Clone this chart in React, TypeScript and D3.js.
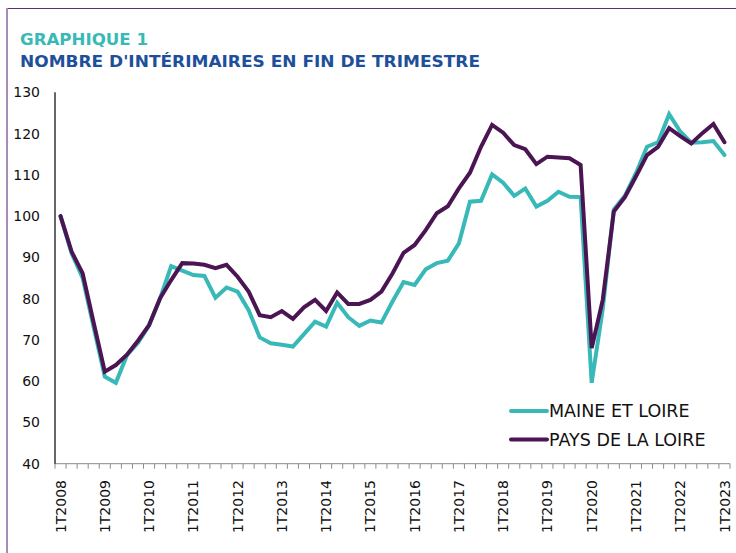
import React from "react";
import * as d3 from "d3";

const years = d3.range(2008, 2024);
const categories: string[] = [];
years.forEach((y) => {
  for (let q = 1; q <= 4; q++) {
    if (y === 2023 && q > 1) break;
    categories.push(`${q}T${y}`);
  }
});

const maineEtLoire = [
  100, 91, 85, 73, 61.1, 59.6, 66.3, 69.3, 73.5, 80.1, 87.9, 86.8, 85.7, 85.5, 80.2, 82.7,
  81.7, 77.2, 70.6, 69.2, 68.8, 68.4, 71.4, 74.4, 73.2, 79.0, 75.5, 73.4, 74.7, 74.2, 79.3, 84.0,
  83.3, 87.1, 88.6, 89.2, 93.4, 103.5, 103.7, 110.1, 108.1, 104.9, 106.7, 102.3, 103.7, 105.9, 104.7, 104.6,
  59.6, 77.5, 101.6, 104.9, 110.4, 116.8, 117.9, 124.7, 120.5, 117.8, 117.9, 118.2, 114.8,
];

const paysDeLaLoire = [
  100, 91.4, 86.1, 74.1, 62.3, 63.9, 66.4, 69.8, 73.6, 80.1, 84.5, 88.6, 88.5, 88.2, 87.4, 88.2,
  85.3, 81.7, 76.0, 75.5, 77.0, 75.1, 77.9, 79.7, 77.0, 81.5, 78.7, 78.7, 79.7, 81.7, 86.1, 91.1,
  93.0, 96.6, 100.7, 102.4, 106.7, 110.5, 116.8, 122.1, 120.2, 117.2, 116.2, 112.6, 114.4, 114.2, 114.0, 112.4,
  68.0, 79.7, 101.1, 104.6, 109.6, 114.8, 116.8, 121.3, 119.4, 117.6, 120.1, 122.3, 117.9,
];

const yTicks = [40, 50, 60, 70, 80, 90, 100, 110, 120, 130];
const seriesNames = ["MAINE ET LOIRE", "PAYS DE LA LOIRE"];
const colors = ["#38b9b7", "#4a1552"];

export default function App() {
  const W = 736;
  const H = 553;
  const x = d3.scaleBand<string>().domain(categories).range([55, 730]);
  const y = d3.scaleLinear().domain([40, 130]).range([463.7, 92.3]);
  const cx = (c: string) => (x(c) as number) + x.bandwidth() / 2;
  const line = d3
    .line<number>()
    .x((_, i) => cx(categories[i]))
    .y((d) => y(d));
  const series = [maineEtLoire, paysDeLaLoire];
  const font = "'DejaVu Sans', Verdana, sans-serif";
  const boundaries = categories.map((c) => x(c) as number).concat([730]);

  return (
    <svg
      width={W}
      height={H}
      style={{ position: "absolute", left: 0, top: 0, background: "#fff" }}
    >
      <line x1={7} x2={W} y1={8.5} y2={8.5} stroke="#5e2d73" strokeWidth={1} />
      <line x1={7} x2={7} y1={8} y2={H} stroke="#a88cb8" strokeWidth={2} />

      <text
        x={20}
        y={45}
        fontFamily={font}
        fontWeight="bold"
        fontSize={16.5}
        fill="#38b9b7"
        textLength={128}
        lengthAdjust="spacingAndGlyphs"
      >
        GRAPHIQUE 1
      </text>
      <text
        x={20}
        y={67}
        fontFamily={font}
        fontWeight="bold"
        fontSize={16.5}
        fill="#1e4f9a"
        textLength={460}
        lengthAdjust="spacingAndGlyphs"
      >
        NOMBRE D'INTÉRIMAIRES EN FIN DE TRIMESTRE
      </text>

      {yTicks.map((t) => (
        <text
          key={t}
          x={40}
          y={y(t)}
          dy="0.36em"
          textAnchor="end"
          fontFamily={font}
          fontSize={14}
          fill="#111"
        >
          {t}
        </text>
      ))}

      <line x1={55} x2={730} y1={y(40)} y2={y(40)} stroke="#8c8c8c" strokeWidth={1} />
      {boundaries.map((b, i) => (
        <line key={i} x1={b} x2={b} y1={y(40)} y2={y(40) + 5} stroke="#8c8c8c" strokeWidth={1} />
      ))}
      <line x1={55} x2={55} y1={y(130)} y2={y(40)} stroke="#000" strokeWidth={1.2} />

      {categories.map((c, i) =>
        i % 4 === 0 ? (
          <text
            key={c}
            transform={`translate(${cx(c)},480) rotate(-90)`}
            dy="0.36em"
            textAnchor="end"
            fontFamily={font}
            fontSize={14}
            fill="#111"
          >
            {c}
          </text>
        ) : null
      )}

      {series.map((s, k) => (
        <path
          key={k}
          d={line(s) as string}
          fill="none"
          stroke={colors[k]}
          strokeWidth={4}
          strokeLinejoin="miter"
          strokeMiterlimit={4}
          strokeLinecap="round"
        />
      ))}

      {seriesNames.map((n, k) => (
        <g key={n} transform={`translate(0,${411 + k * 28.5})`}>
          <line x1={511} x2={547} y1={0} y2={0} stroke={colors[k]} strokeWidth={4} strokeLinecap="round" />
          <text x={549} y={0} dy="0.36em" fontFamily={font} fontSize={17.5} fill="#111">
            {n}
          </text>
        </g>
      ))}
    </svg>
  );
}
